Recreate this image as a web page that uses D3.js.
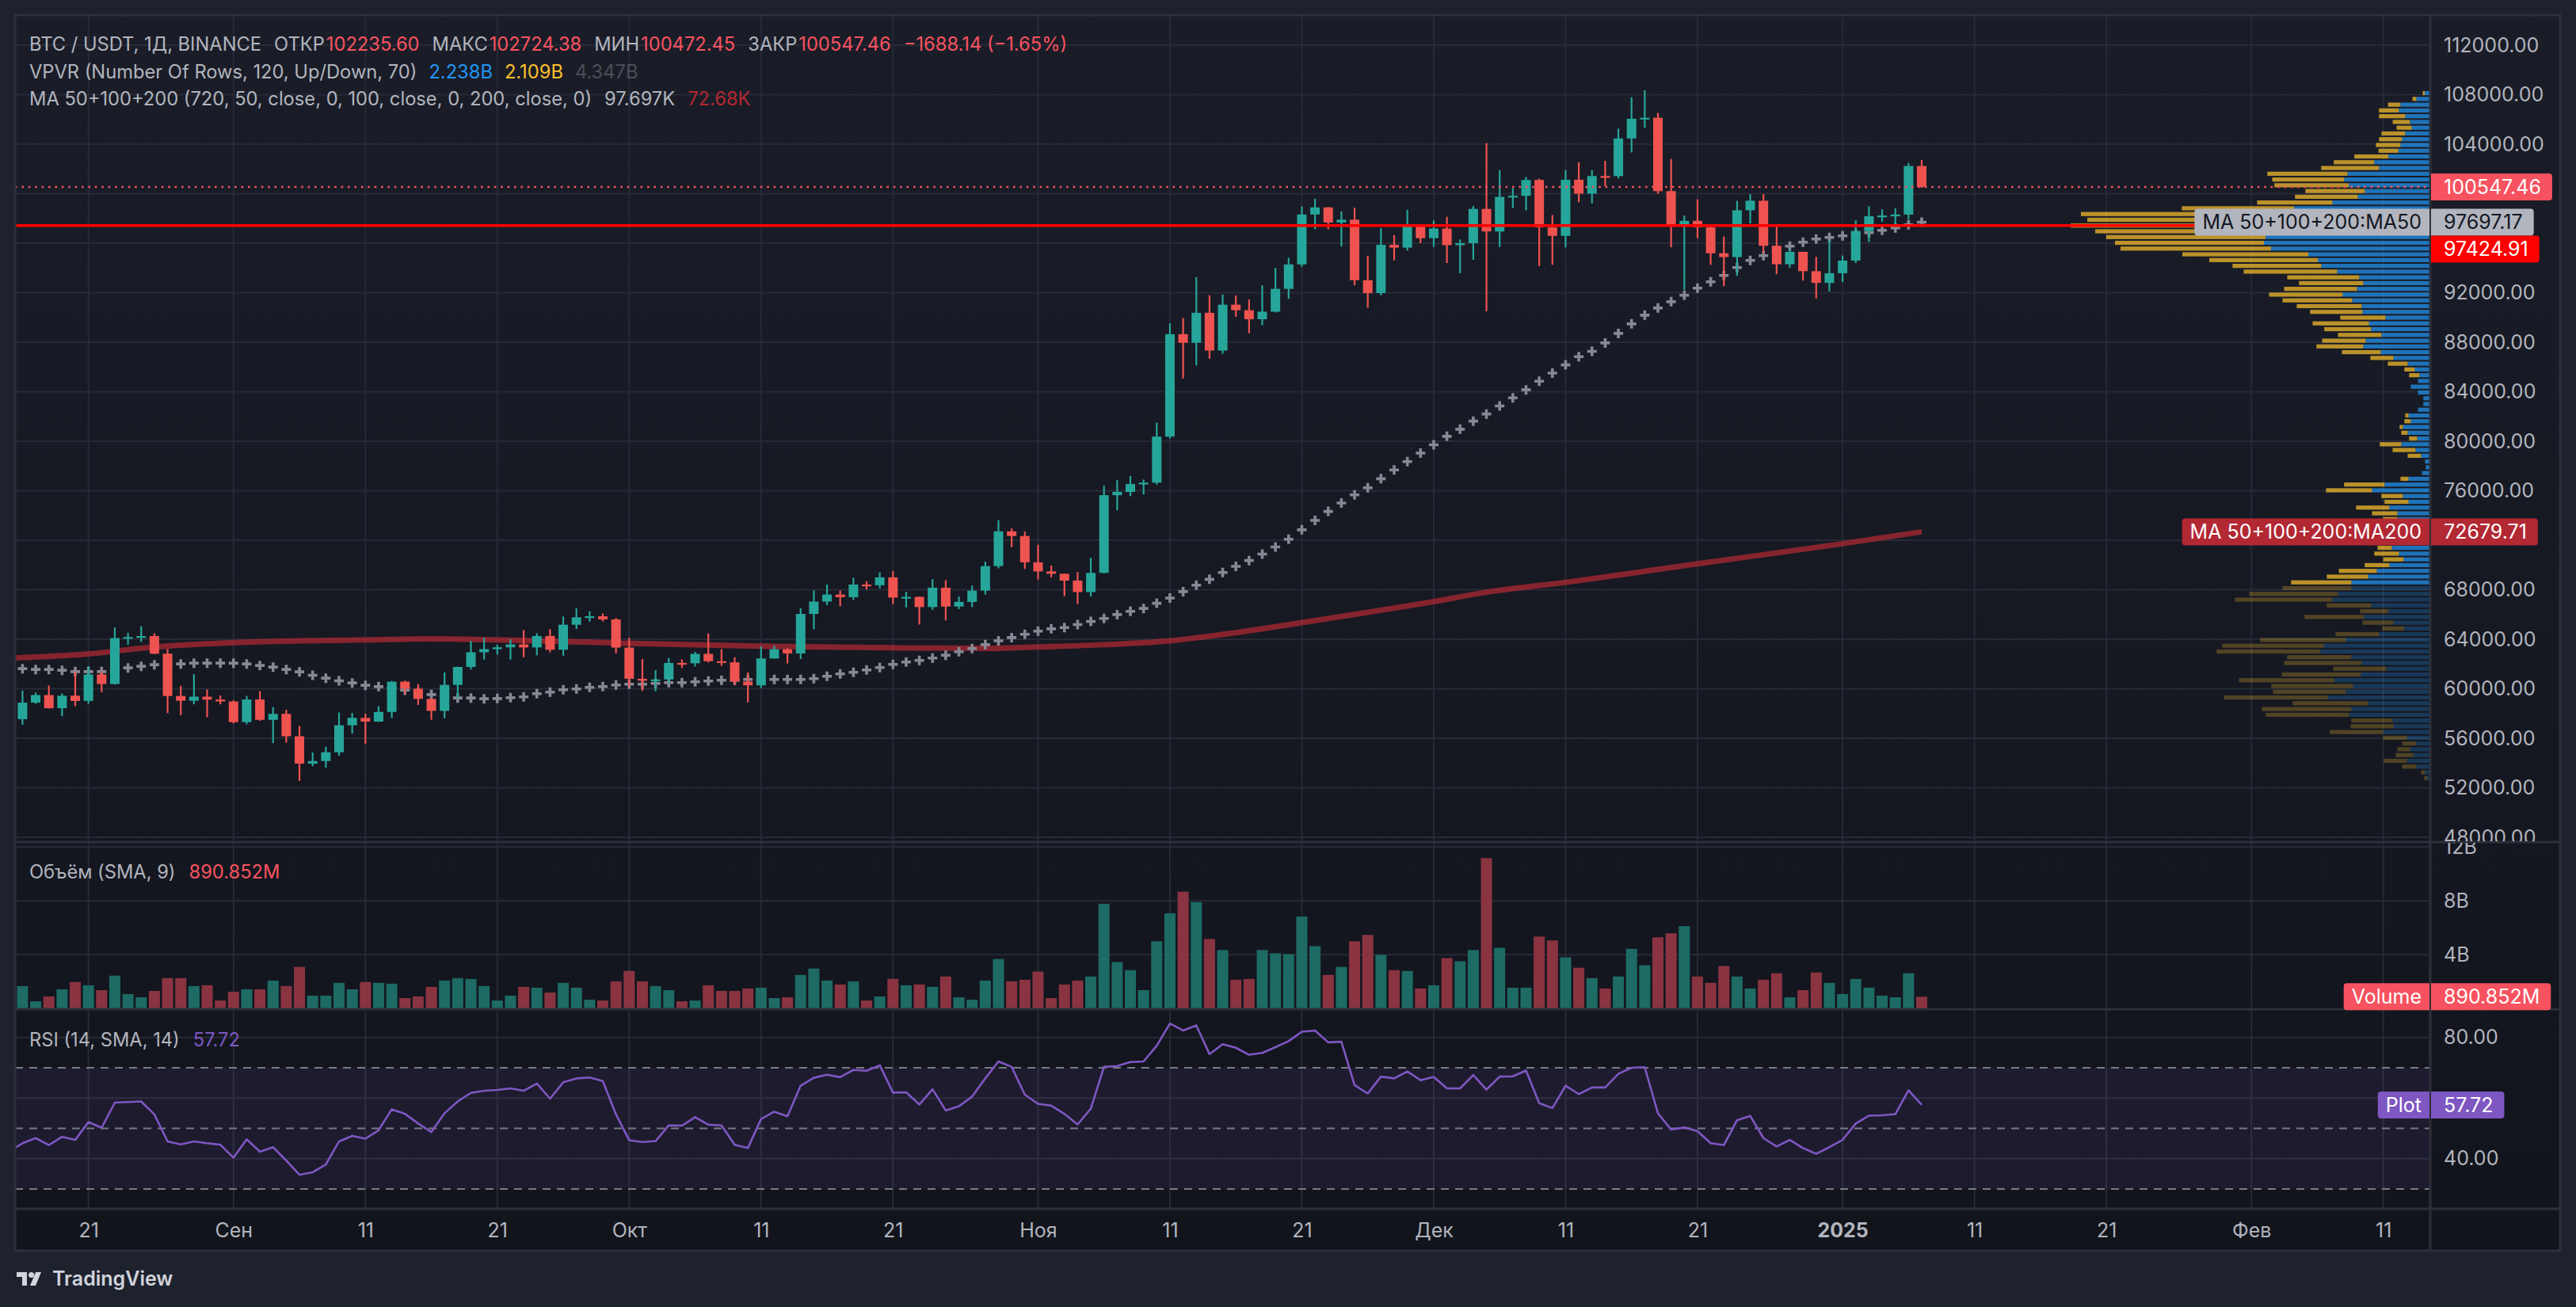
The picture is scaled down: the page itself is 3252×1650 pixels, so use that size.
<!DOCTYPE html>
<html><head><meta charset="utf-8">
<script src="https://cdn.jsdelivr.net/npm/d3@7"></script>
<style>
html,body{margin:0;padding:0;background:#1e222d;overflow:hidden}
svg{display:block}
text{font-family:Inter,"Noto Sans",sans-serif}
</style>
</head><body>
<svg id="chart" width="3252" height="1650"></svg>
<script>
// ---------------- DATA ----------------
const firstDay = "2024-08-15";
const lastDay = "2025-01-07";
const opens = [
58683,57541,58874,59491,58427,59438,59013,61157,60381,64094,64178,64257,62834,59416,59034,59359,59123,
58974,57301,59132,57487,57971,56160,53950,54160,54870,57050,57648,57343,58127,60571,60005,59182,58213,60309,61759,62947,63201,63348,63578,63339,64262,63152,65173,65769,65858,65602,
63327,60805,60650,60752,62086,62058,62819,62224,62134,60583,60275,62445,63193,62851,66046,67041,67612,67399,68418,68362,69001,67367,67426,66600,68161,66642,67014,67929,69907,72720,72339,
70216,69482,69289,68742,67811,69359,75640,75904,76538,76650,80370,88648,87952,90375,87325,91032,90587,89855,90464,92310,94286,98317,98892,97672,97900,93010,91965,95864,95643,97461,
96407,97185,95840,96003,98768,96946,99740,99831,101109,97276,96593,101126,100000,101424,101420,104463,106058,106133,100204,97461,97805,97291,95186,94878,98663,99430,95792,94299,95300,93738,92792,
93576,94592,96984,98174,98236,98314,102235.60];
const highs = [
59849,59848,59700,60260,59617,61396,61820,61400,64955,64521,65050,64480,63212,60234,61166,59944,59462,
59076,59425,59810,58520,58300,56995,54850,55318,58088,58044,57991,58588,60625,60656,60381,59210,61320,61786,63850,64133,63559,64000,64745,64481,64817,65839,66498,66260,66076,65722,
64130,62392,61500,62485,62370,62975,64478,63200,62543,61320,63417,63480,63285,66500,67950,68424,67939,68969,68693,69400,69500,67836,67440,68850,68771,67454,68332,70270,73620,72961,72700,
71632,69950,69300,69431,70577,76400,76849,77200,76900,81500,89530,89956,93265,91790,91850,91779,91449,92594,94002,94831,98966,99588,98919,98564,98871,94973,97208,96650,98693,97499,
97836,98130,96305,99000,104088,101898,100439,101350,101215,98270,101895,102540,101895,102650,105250,107793,108353,106524,102800,98233,99540,97448,96538,99416,99960,99963,97544,95525,95300,94903,96250,
95000,97839,98976,98734,98813,102482,102724.38];
const lows = [
56078,57098,58785,58409,57787,58600,58783,59724,60345,63560,63790,62800,58034,57860,58745,57703,58744,
57201,57128,57415,55607,55650,52550,53745,53629,54592,56388,55567,57324,57632,59600,58697,57493,57610,59174,61555,62350,62758,62357,62538,62700,62947,62670,64819,65422,65432,62857,
60164,59828,59800,60460,61675,61800,62128,61860,60300,58895,60050,62445,62050,62400,64800,66750,66666,67177,68010,68100,66835,66571,65188,66384,65521,66439,66600,67618,69730,71436,69685,
68820,68990,67478,66835,67458,69322,74417,75560,75700,76490,80216,85072,86127,86668,87073,90056,88722,89376,90405,91500,94100,97122,97120,95734,92600,90791,91792,94610,95407,96000,
95693,94395,93578,94660,90500,95700,98844,98657,94150,94256,95658,99311,99205,100610,101237,103333,105321,100000,95671,92232,96398,94250,92520,93365,97593,95200,93500,94016,92981,91530,92104,
92870,94392,96100,97735,97271,97926,100472.45];
const closes = [
57541,58874,59491,58427,59438,59013,61156,60381,64094,64178,64257,62834,59416,59034,59359,59123,58973,
57301,59132,57487,57971,56160,53950,54160,54870,57050,57648,57343,58127,60571,60005,59182,58213,60309,61759,62947,63201,63348,63578,63339,64262,63152,65173,65769,65858,65602,63327,
60805,60650,60752,62086,62058,62819,62224,62134,60582,60274,62445,63193,62851,66046,67041,67612,67399,68418,68362,69001,67367,67426,66600,68161,66642,67014,67929,69907,72720,72339,70215,
69482,69289,68742,67811,69359,75640,75904,76538,76650,80370,88647,87952,90375,87325,91032,90586,89855,90464,92310,94286,98317,98892,97672,97900,93010,91965,95863,95643,97460,96407,
97185,95840,96002,98768,96946,99740,99831,101109,97276,96593,101125,100000,101424,101420,104463,106058,106133,100204,97461,97805,97291,95186,94881,98663,99430,95792,94299,95300,93738,92792,93576,
94591,96984,98174,98236,98314,102235.60,100547.46];
// daily volume, billions USDT
const volumes = [
2.2,1.68,0.55,0.91,1.44,1.98,1.74,1.38,2.45,1.09,0.85,1.32,2.27,2.27,1.68,1.74,0.61,
1.26,1.44,1.44,2.09,1.68,3.10,0.97,0.97,1.92,1.44,1.98,1.92,1.86,0.79,0.91,1.62,2.09,2.27,2.21,1.68,0.61,0.97,1.62,1.56,1.20,1.92,1.56,0.67,0.61,2.03,
2.80,2.03,1.68,1.38,0.55,0.61,1.74,1.32,1.32,1.50,1.56,0.79,0.85,2.51,2.98,2.09,1.80,2.03,0.61,0.91,2.21,1.74,1.80,1.62,2.39,0.85,0.67,2.09,3.69,2.03,2.15,
2.75,0.79,1.80,2.09,2.39,7.78,3.46,2.86,1.38,5.00,7.07,8.67,7.90,5.17,4.35,2.15,2.21,4.35,4.11,4.05,6.83,4.64,2.51,3.10,5.00,5.47,3.99,2.86,2.80,1.50,
1.74,3.75,3.52,4.35,11.16,4.52,1.56,1.56,5.35,5.06,3.81,3.04,2.27,1.50,2.39,4.44,3.22,5.29,5.59,6.12,2.39,1.92,3.16,2.39,1.50,2.15,2.63,0.85,1.38,2.69,1.92,
1.09,2.21,1.56,0.97,0.85,2.63,0.890852];
const rsiValues = [
42.4,45.1,46.8,44.5,47.2,46.2,52.1,50.2,58.5,58.7,58.9,54.6,45.7,44.7,45.7,45.1,44.6,
40.3,46.4,42.3,43.8,39.4,34.7,35.5,38.1,45.7,47.5,46.6,49.4,56.3,54.8,51.6,48.8,55.0,58.9,61.7,62.4,62.7,63.2,62.4,64.8,59.8,65.2,66.5,66.8,65.6,54.6,
46.1,45.5,45.8,51.0,50.9,53.7,51.2,51.0,44.6,43.5,53.1,55.5,54.0,64.1,66.7,67.7,66.9,69.3,69.0,70.8,61.8,61.9,57.9,62.9,55.9,57.3,60.5,66.5,72.1,70.3,61.1,
58.1,57.5,54.8,51.3,56.5,70.3,70.6,71.9,72.1,77.3,84.6,82.3,84.0,74.5,77.8,76.6,74.3,74.9,76.8,78.8,81.9,82.3,78.4,78.6,64.3,61.5,67.1,66.5,68.8,65.9,
67.0,63.2,63.2,67.6,62.8,67.1,67.2,69.1,58.3,56.7,64.1,61.3,63.5,63.5,68.0,70.0,70.2,55.0,49.6,50.3,49.1,45.1,44.5,52.7,54.1,46.8,44.0,46.2,43.5,41.6,43.8,
46.2,51.6,54.2,54.3,54.7,62.6,57.72];
const ma50Values = [
61700,61622,61558,61558,61494,61387,61387,61387,61537,61686,61814,61942,62006,62006,62070,62070,62070,
62070,62006,61878,61750,61558,61366,61089,60854,60641,60470,60278,60171,60043,59894,59700,59531,59400,59254,59254,59190,59211,59276,59340,59596,59724,59916,59980,60108,60172,60300,
60364,60364,60428,60492,60492,60556,60620,60684,60684,60748,60748,60748,60748,60748,60812,61004,61196,61324,61516,61708,61964,62156,62284,62476,62710,62988,63244,63563,63874,64136,64397,
64659,64842,64946,65181,65443,65678,65992,66253,66488,66906,67325,67848,68371,68841,69390,69887,70358,70881,71456,72083,72842,73600,74331,75011,75664,76239,76971,77676,78356,79036,
79715,80395,80970,81624,82199,82850,83500,84150,84850,85500,86170,86833,87260,87943,88712,89481,90186,90763,91275,91788,92364,92877,93390,94031,94608,94992,95376,95761,96081,96337,96466,
96594,96765,96850,97042,97235,97491,97697.17];
const ma200Dates = ["2024-08-15","2024-08-21","2024-08-26","2024-09-01","2024-09-06","2024-09-11","2024-09-16","2024-09-21","2024-10-01","2024-10-11","2024-10-21","2024-10-28","2024-11-01","2024-11-06","2024-11-11","2024-11-16","2024-11-21","2024-11-26","2024-12-01","2024-12-05","2024-12-11","2024-12-21","2025-01-01","2025-01-07"];
const ma200Values = [62480,62820,63370,63730,63870,63950,64030,63950,63670,63435,63307,63264,63380,63560,63875,64530,65340,66175,67040,67800,68600,70100,71720,72679.71];
const hLinePrice = 97424.91;
// Volume profile (VPVR), 120 rows from the top price down; relative volume
const vpHigh = 108353, vpLow = 52550, vpRows = 120, vpValueAreaRows = 86;
const vpUp = [6.0,16.5,36.6,38.7,30.6,24.6,22.5,30.6,34.5,36.6,39.4,51.8,69.7,63.7,103.5,107.7,101.8,81.7,90.5,122.5,
170.8,210,205,215,205,207,209,200,153,141,136.6,116.5,88.7,83.5,91.5,109.5,97.5,85.6,84.5,55.6,
76.4,73.6,60.6,80.6,83.5,61.6,45.4,27.5,18.7,12.7,14.4,23.6,14.4,7.7,7.7,14.4,26.4,23.6,33.5,27.5,
15.5,35.6,17.6,10.6,5.6,4.6,9.5,26.4,56.7,72.5,33.5,26.4,50.7,40.5,40.5,45,48,50,46,47.5,
38.7,32.7,50.7,66.5,77.5,98.6,98.6,115.5,122.5,73.6,51.8,82.7,45.4,31.7,63.7,105.6,133.5,137.7,98.6,85.6,
54.6,86.6,119.7,96.5,105.6,128.5,77.5,98.6,101.8,46.5,45.4,58.5,28.5,16.5,24.6,20.4,28.5,16.5,5.6,2.5];
const vpDown = [2.5,4.9,15.8,25.0,33.1,21.8,19.0,29.9,29.2,31.0,25.0,43.0,51.1,72.9,101.1,90.8,94.0,75.0,79.2,95.1,
141.9,230,227,238,217,201,188,190,159,137,112.0,118.0,90.8,81.3,91.9,93.0,88.0,82.0,66.2,57.0,
71.1,59.2,54.9,54.9,59.2,48.9,29.2,25.0,13.0,13.0,0,0,0,0,0,0,4.2,8.1,4.2,8.1,
10.2,27.1,28.9,16.9,0,0,0,10.2,51.1,58.1,27.1,30.3,41.9,32.0,18.0,25,28,30,24,18.0,
31.0,25.7,31.0,47.9,52.1,76.1,87.0,112.0,123.2,56.0,35.9,75.0,39.1,27.8,54.9,108.1,128.2,131.0,81.0,97.9,
66.9,100.0,120.8,103.2,91.9,131.0,95.1,113.0,104.9,52.1,54.2,67.3,29.9,18.0,15.8,22.2,29.2,18.0,4.9,4.2];
const priceTicks = [48000,52000,56000,60000,64000,68000,72000,76000,80000,84000,88000,92000,96000,100000,104000,108000,112000];
const volTicks = [4,8,12];
const rsiTicks = [40,60,80];
const rsiBands = [70,50,30];
const timeTickDates = ["2024-08-21","2024-09-01","2024-09-11","2024-09-21","2024-10-01","2024-10-11","2024-10-21","2024-11-01","2024-11-11","2024-11-21","2024-12-01","2024-12-11","2024-12-21","2025-01-01","2025-01-11","2025-01-21","2025-02-01","2025-02-11"];
const timeTickLabels = ["21","Сен","11","21","Окт","11","21","Ноя","11","21","Дек","11","21","2025","11","21","Фев","11"];
const vpvrLegend = ["2.238B","2.109B","4.347B"];
const maLegend = ["97.697K","72.68K"];

// ---------------- LAYOUT ----------------
const W = 3252, H = 1650;
const F = {l:19, r:3232, t:19, ax:3068, mb:1062, vt:1064, vb:1273.5, rt:1275, rb:1525, tb:1579};
const C = {grid:"#272a36", sep:"#2c303b", text:"#b2b5be", up:"#26a69a", down:"#ef5350",
  volUp:"#1d6b64", volDown:"#8a3441", red:"#f7525f", ma200:"#b22833", ma50:"#868993", rsi:"#7e57c2"};
const LEGEND_FS = 23.7;
const parse = d3.utcParse("%Y-%m-%d");
const dates = d3.utcDay.range(parse(firstDay), d3.utcDay.offset(parse(lastDay), 1));

const x = d3.scaleUtc().domain([parse("2024-08-16"), parse("2025-02-11")]).range([28.4, 3008.75]);
const y = d3.scaleLinear().domain([48000,112000]).range([1057,57]);
const yVol = d3.scaleLinear().domain([0,12]).range([F.vb,1069]);
const yRsi = d3.scaleLinear().domain([30,70]).range([1501,1348]);

const svg = d3.select("#chart");
const defs = svg.append("defs");
const grad = defs.append("linearGradient").attr("id","bgGrad").attr("gradientUnits","userSpaceOnUse")
  .attr("x1",0).attr("y1",F.t).attr("x2",0).attr("y2",F.tb);
grad.append("stop").attr("offset",0).attr("stop-color","#1a1d28");
grad.append("stop").attr("offset",1).attr("stop-color","#12141c");
function clip(id,x0,y0,x1,y1){defs.append("clipPath").attr("id",id).append("rect").attr("x",x0).attr("y",y0).attr("width",x1-x0).attr("height",y1-y0);}
clip("cMain",F.l,F.t,F.ax-1,F.mb);
clip("cVol",F.l,F.vt,F.ax-1,1273);
clip("cRsi",F.l,F.rt,F.ax-1,F.rb);
clip("cPAx",F.ax,F.t+1,F.r,F.mb);
clip("cVAx",F.ax,F.vt,F.r,1273);
clip("cRAx",F.ax,F.rt,F.r,F.rb);

svg.append("rect").attr("width",W).attr("height",H).attr("fill","#1e222d");
svg.append("rect").attr("x",F.l).attr("y",F.t).attr("width",F.r-F.l).attr("height",F.tb-F.t).attr("fill","url(#bgGrad)");

// ---------------- GRID ----------------
const grid = svg.append("g").attr("stroke",C.grid).attr("stroke-width",2);
timeTickDates.forEach(d=>{
  grid.append("line").attr("x1",x(parse(d))).attr("x2",x(parse(d))).attr("y1",F.t).attr("y2",F.rb);
});
grid.append("g").attr("clip-path","url(#cMain)").selectAll("line").data(priceTicks).join("line")
  .attr("x1",F.l).attr("x2",F.ax).attr("y1",d=>y(d)).attr("y2",d=>y(d));
grid.append("g").attr("clip-path","url(#cVol)").selectAll("line").data(volTicks).join("line")
  .attr("x1",F.l).attr("x2",F.ax).attr("y1",d=>yVol(d)).attr("y2",d=>yVol(d));
grid.append("g").selectAll("line").data(rsiTicks).join("line")
  .attr("x1",F.l).attr("x2",F.ax).attr("y1",d=>yRsi(d)).attr("y2",d=>yRsi(d));

// ---------------- MAIN PANE ----------------
const main = svg.append("g").attr("clip-path","url(#cMain)");

// volume profile
const vpTotals = vpUp.map((u,i)=>u+vpDown[i]);
const vw = d3.scaleLinear().domain([0,d3.max(vpTotals)]).range([0,453]);
const rowP = (vpHigh-vpLow)/vpRows;
const vpG = main.append("g");
vpUp.forEach((u,i)=>{
  const y0 = y(vpHigh - i*rowP), y1 = y(vpHigh-(i+1)*rowP);
  const h = (y1-y0)*0.72, yc=(y0+y1)/2;
  const op = i < vpValueAreaRows ? 0.72 : 0.26;
  const xr = F.ax-1;
  vpG.append("rect").attr("x",xr-vw(u)).attr("y",yc-h/2).attr("width",vw(u)).attr("height",h).attr("fill","#2196f3").attr("fill-opacity",op);
  if (vpDown[i]>0) vpG.append("rect").attr("x",xr-vw(u)-vw(vpDown[i])).attr("y",yc-h/2).attr("width",vw(vpDown[i])).attr("height",h).attr("fill","#fbc02d").attr("fill-opacity",op);
});

// MA200
main.append("path").datum(ma200Dates.map((d,i)=>[parse(d),ma200Values[i]]))
  .attr("d",d3.line().x(d=>x(d[0])).y(d=>y(d[1])).curve(d3.curveMonotoneX))
  .attr("fill","none").attr("stroke",C.ma200).attr("stroke-opacity",0.72).attr("stroke-width",7);

// MA50 crosses
main.append("g").selectAll("path").data(ma50Values).join("path")
  .attr("d",(v,i)=>{const cx=x(dates[i]), cy=y(v); return `M${cx-6},${cy}h12M${cx},${cy-6}v12`;})
  .attr("stroke",C.ma50).attr("stroke-width",3.6).attr("fill","none");

// candles
const cg = main.append("g");
dates.forEach((d,i)=>{
  const o=opens[i], c=closes[i], col = c>=o ? C.up : C.down, cx=x(d);
  cg.append("line").attr("x1",cx).attr("x2",cx).attr("y1",y(highs[i])).attr("y2",y(lows[i])).attr("stroke",col).attr("stroke-width",2.2);
  const top=y(Math.max(o,c)), bot=y(Math.min(o,c));
  cg.append("rect").attr("x",cx-6).attr("width",12).attr("y",top).attr("height",Math.max(2.2,bot-top)).attr("fill",col);
});

// horizontal line and last price line
main.append("line").attr("x1",F.l).attr("x2",F.ax).attr("y1",y(hLinePrice)).attr("y2",y(hLinePrice)).attr("stroke","#ff0000").attr("stroke-width",3.5);
const lastClose = closes[closes.length-1];
main.append("line").attr("x1",F.l).attr("x2",F.ax).attr("y1",y(lastClose)).attr("y2",y(lastClose))
  .attr("stroke",C.red).attr("stroke-width",2.6).attr("stroke-dasharray","2.6,5.8");

// ---------------- VOLUME PANE ----------------
svg.append("g").attr("clip-path","url(#cVol)").selectAll("rect").data(volumes).join("rect")
  .attr("x",(v,i)=>x(dates[i])-7).attr("width",14)
  .attr("y",v=>yVol(v)).attr("height",v=>yVol(0)-yVol(v))
  .attr("fill",(v,i)=>closes[i]>=opens[i]?C.volUp:C.volDown);

// ---------------- RSI PANE ----------------
const rg = svg.append("g").attr("clip-path","url(#cRsi)");
rg.append("rect").attr("x",F.l).attr("width",F.ax-F.l).attr("y",yRsi(70)).attr("height",yRsi(30)-yRsi(70)).attr("fill","#7e57c2").attr("fill-opacity",0.1);
rg.selectAll("line.band").data(rsiBands).join("line").attr("class","band")
  .attr("x1",F.l).attr("x2",F.ax).attr("y1",d=>yRsi(d)).attr("y2",d=>yRsi(d))
  .attr("stroke","#787b86").attr("stroke-width",2).attr("stroke-dasharray","10,8");
rg.append("path").datum(rsiValues).attr("d",d3.line().x((v,i)=>x(dates[i])).y(v=>yRsi(v)))
  .attr("fill","none").attr("stroke",C.rsi).attr("stroke-width",2.6).attr("stroke-linejoin","round");

// ---------------- SEPARATORS & FRAME ----------------
const sep = svg.append("g").attr("stroke",C.sep).attr("stroke-width",3);
[1063,1274,1526].forEach(yy=>sep.append("line").attr("x1",F.l).attr("x2",F.r).attr("y1",yy).attr("y2",yy));
sep.append("line").attr("x1",F.ax).attr("x2",F.ax).attr("y1",F.t).attr("y2",F.tb);
sep.append("rect").attr("x",F.l).attr("y",F.t).attr("width",F.r-F.l).attr("height",F.tb-F.t).attr("fill","none");

// ---------------- BADGE POSITIONS ----------------
const fmt2 = d3.format(".2f");
const lastMa50 = ma50Values[ma50Values.length-1], lastMa200 = ma200Values[ma200Values.length-1];
const pb = [
  {v:lastClose, bg:C.red, fg:"#ffffff"},
  {v:lastMa50, bg:"#b2b5be", fg:"#131722", name:"MA 50+100+200:MA50"},
  {v:hLinePrice, bg:"#ff0000", fg:"#ffffff"},
  {v:lastMa200, bg:C.ma200, fg:"#ffffff", name:"MA 50+100+200:MA200"}
].map(b=>({...b, yc:y(b.v)})).sort((a,b)=>a.yc-b.yc);
for(let i=1;i<pb.length;i++){ if(pb[i].yc < pb[i-1].yc+34) pb[i].yc = pb[i-1].yc+34; }
const lastVol = volumes[volumes.length-1];
const lastRsi = rsiValues[rsiValues.length-1];
const free = (yy, centers) => centers.every(c => Math.abs(yy-c) >= 26);

// ---------------- AXES ----------------
function styleAxis(g){ g.select(".domain").remove(); g.selectAll("text").attr("fill",C.text).attr("font-size",25).attr("font-family","Inter, 'Noto Sans', sans-serif").attr("text-anchor","start"); }
const pbCenters = pb.map(b=>b.yc);
svg.append("g").attr("clip-path","url(#cPAx)").append("g").attr("transform",`translate(${F.ax},0)`)
  .call(d3.axisRight(y).tickValues(priceTicks.filter(t=>free(y(t),pbCenters))).tickFormat(d3.format(".2f")).tickSize(0).tickPadding(17)).call(styleAxis);
svg.append("g").attr("clip-path","url(#cVAx)").append("g").attr("transform",`translate(${F.ax},0)`)
  .call(d3.axisRight(yVol).tickValues(volTicks.filter(t=>free(yVol(t),[yVol(lastVol)]))).tickFormat(d=>d+"B").tickSize(0).tickPadding(17)).call(styleAxis);
svg.append("g").attr("clip-path","url(#cRAx)").append("g").attr("transform",`translate(${F.ax},0)`)
  .call(d3.axisRight(yRsi).tickValues(rsiTicks.filter(t=>free(yRsi(t),[yRsi(lastRsi)]))).tickFormat(d3.format(".2f")).tickSize(0).tickPadding(17)).call(styleAxis);
const tAx = svg.append("g").attr("transform",`translate(0,1527)`)
  .call(d3.axisBottom(x).tickValues(timeTickDates.map(parse)).tickFormat((d,i)=>timeTickLabels[i]).tickSize(0));
tAx.select(".domain").remove();
tAx.selectAll("text").attr("y",26).attr("dy","0.35em").attr("fill",C.text).attr("font-size",25)
  .attr("font-family","Inter, 'Noto Sans', sans-serif")
  .attr("font-weight",(d,i)=>timeTickLabels[i]==="2025"?700:400);

// ---------------- AXIS BADGES ----------------
function roundRect(x0,y0,w,h,r,left){
  if(left) return `M${x0+r},${y0}H${x0+w}V${y0+h}H${x0+r}Q${x0},${y0+h} ${x0},${y0+h-r}V${y0+r}Q${x0},${y0} ${x0+r},${y0}Z`;
  return `M${x0},${y0}H${x0+w-r}Q${x0+w},${y0} ${x0+w},${y0+r}V${y0+h-r}Q${x0+w},${y0+h} ${x0+w-r},${y0+h}H${x0}Z`;
}
function badge(yc, value, bg, fg, name){
  const g = svg.append("g");
  const vt = g.append("text").attr("x",F.ax+17).attr("y",yc).attr("dominant-baseline","central").attr("font-size",25).attr("fill",fg).text(value);
  const vw2 = vt.node().getComputedTextLength();
  g.insert("path","text").attr("d",roundRect(F.ax+1,yc-17,vw2+30,34,4,false)).attr("fill",bg);
  if(name){
    const nt = g.append("text").attr("x",F.ax-11).attr("y",yc).attr("text-anchor","end").attr("dominant-baseline","central").attr("font-size",25).attr("fill",fg).text(name);
    const nw = nt.node().getComputedTextLength();
    g.insert("path","text").attr("d",roundRect(F.ax-nw-21,yc-17,nw+20,34,4,true)).attr("fill",bg);
  }
}
pb.forEach(b=>badge(b.yc, fmt2(b.v), b.bg, b.fg, b.name));
badge(yVol(lastVol), d3.format(".3f")(lastVol*1000)+"M", C.red, "#ffffff", "Volume");
badge(yRsi(lastRsi), fmt2(lastRsi), C.rsi, "#ffffff", "Plot");

// ---------------- LEGENDS ----------------
function legend(yc, parts){
  let cx = 37;
  parts.forEach(p=>{
    cx += p.gap||0;
    const t = svg.append("text").attr("x",cx).attr("y",yc).attr("dominant-baseline","central")
      .attr("font-size",LEGEND_FS).attr("fill",p.c||C.text).text(p.t);
    cx += t.node().getComputedTextLength();
  });
}
const n = closes.length;
const chg = closes[n-1]-closes[n-2], pct = chg/closes[n-2]*100;
const mfmt = v => (v<0?"\u2212":"")+fmt2(Math.abs(v));
legend(55,[{t:"BTC / USDT, 1Д, BINANCE"},{t:"ОТКР",gap:16},{t:fmt2(opens[n-1]),c:C.red,gap:2},
  {t:"МАКС",gap:16},{t:fmt2(highs[n-1]),c:C.red,gap:2},{t:"МИН",gap:16},{t:fmt2(lows[n-1]),c:C.red,gap:2},
  {t:"ЗАКР",gap:16},{t:fmt2(closes[n-1]),c:C.red,gap:2},{t:`${mfmt(chg)} (${mfmt(pct)}%)`,c:C.red,gap:16}]);
legend(90,[{t:"VPVR (Number Of Rows, 120, Up/Down, 70)"},{t:vpvrLegend[0],c:"#2196f3",gap:15},{t:vpvrLegend[1],c:"#fbc02d",gap:15},{t:vpvrLegend[2],c:"#4b4e57",gap:15}]);
legend(124,[{t:"MA 50+100+200 (720, 50, close, 0, 100, close, 0, 200, close, 0)"},{t:maLegend[0],gap:16},{t:maLegend[1],c:C.ma200,gap:16}]);
legend(1100,[{t:"Объём (SMA, 9)"},{t:d3.format(".3f")(lastVol*1000)+"M",c:C.red,gap:17}]);
legend(1312,[{t:"RSI (14, SMA, 14)"},{t:fmt2(lastRsi),c:C.rsi,gap:17}]);

// ---------------- LOGO ----------------
const logo = svg.append("g").attr("transform","translate(21,1603)").attr("fill","#d1d4dc");
logo.append("path").attr("d","M13 20H7V9H0V3h13v17z M24 20h-7l7-17h7L24 20z");
logo.append("circle").attr("cx",18.5).attr("cy",6.5).attr("r",3.5);
svg.append("text").attr("x",66).attr("y",1614).attr("dominant-baseline","central").attr("font-size",25)
  .attr("font-weight",600).attr("fill","#d1d4dc").text("TradingView");
</script>
</body></html>
